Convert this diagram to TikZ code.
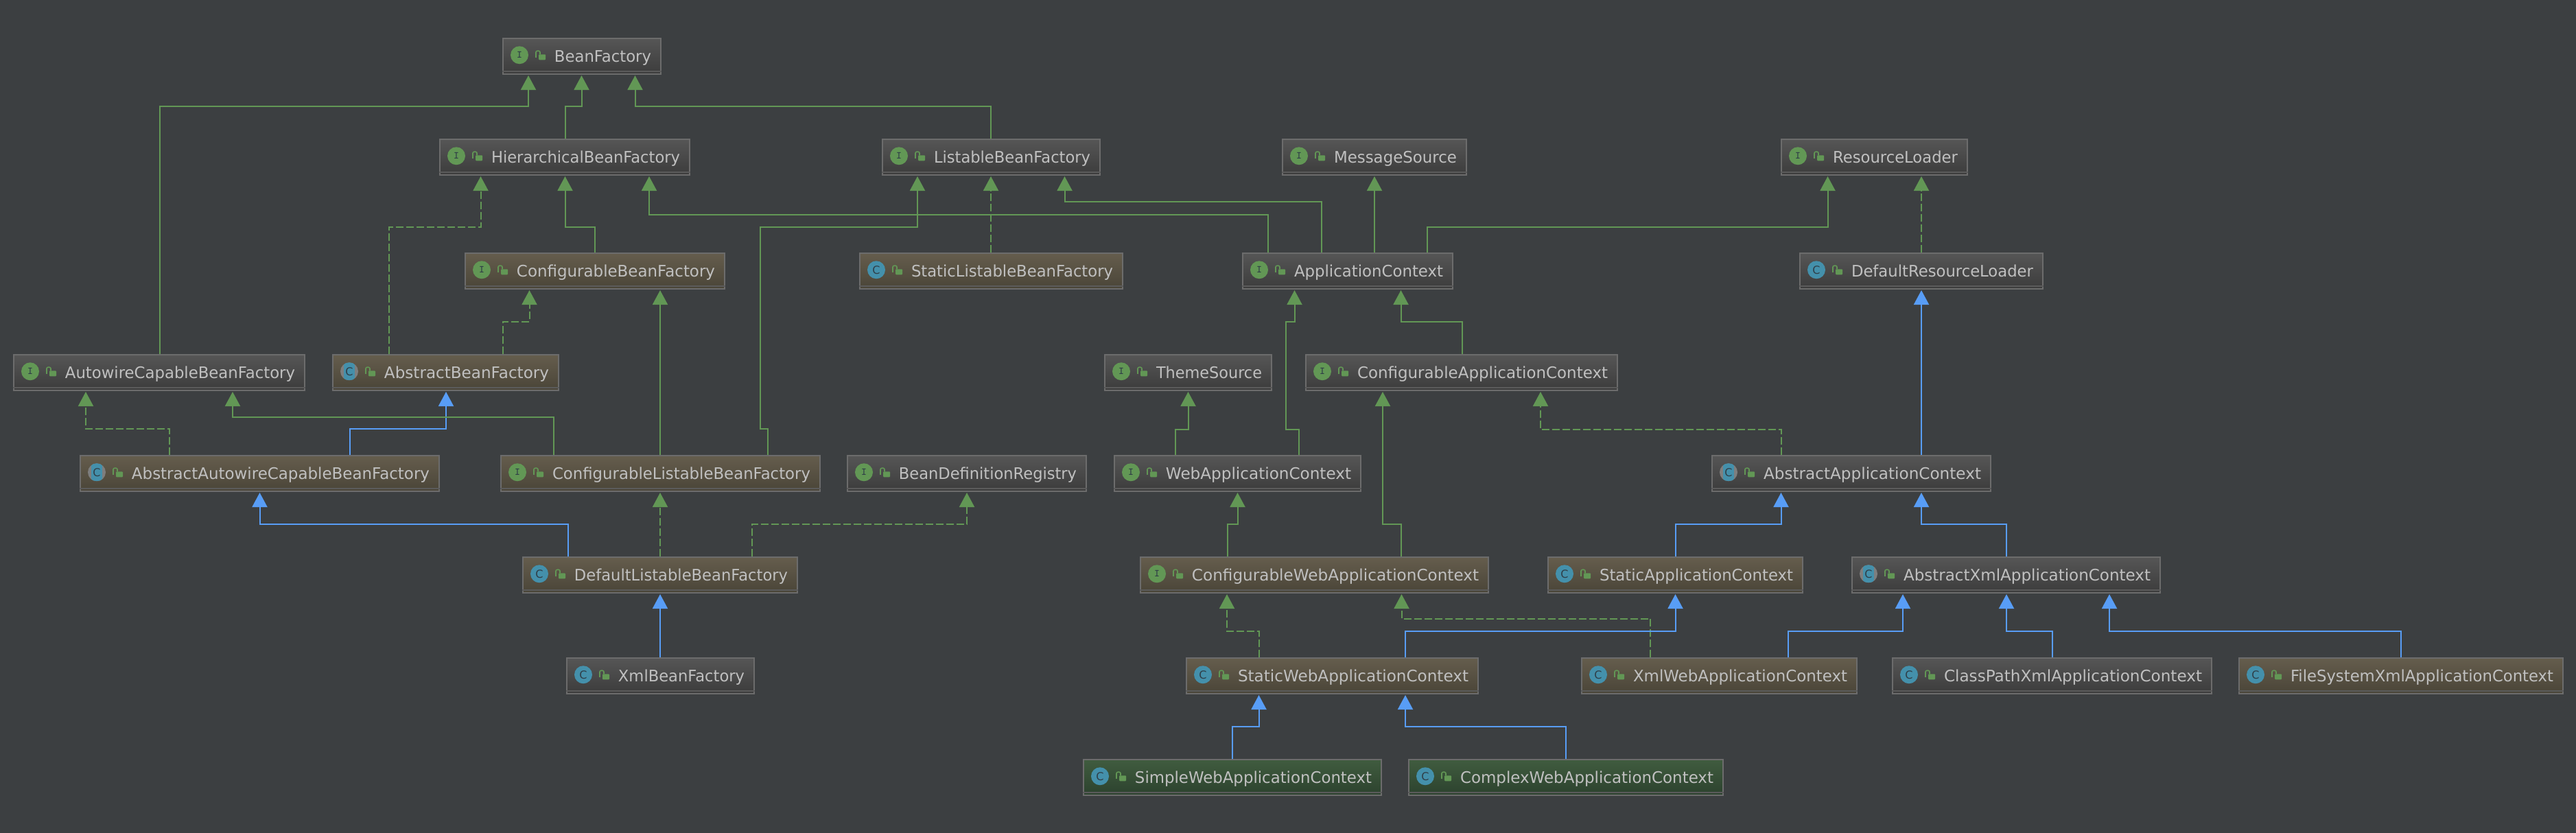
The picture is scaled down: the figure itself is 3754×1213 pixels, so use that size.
\documentclass[tikz,border=0pt]{standalone}
\usepackage{fontspec}
\setmainfont{DejaVu Sans}
\usepackage{graphicx}
\usepackage{tikz}
\usetikzlibrary{arrows.meta}
\definecolor{bgdark}{HTML}{3C3F41}
\definecolor{textgray}{HTML}{C0C0C0}
\definecolor{edgegreen}{HTML}{629755}
\definecolor{edgeblue}{HTML}{589DF6}
\definecolor{iconblue}{HTML}{4490AB}
\definecolor{iconink}{HTML}{2F3E47}
\definecolor{icongray}{HTML}{7E7E7E}
\definecolor{rimgray}{HTML}{6C6C6C}
\definecolor{stripegray}{HTML}{5B5B5B}
\definecolor{graytop}{HTML}{565656}
\definecolor{graybot}{HTML}{3C3C3C}
\definecolor{browntop}{HTML}{655D4D}
\definecolor{brownbot}{HTML}{4A4538}
\definecolor{greentop}{HTML}{405C3F}
\definecolor{greenbot}{HTML}{2C422E}
\tikzset{
    basebox/.style={draw=rimgray, line width=2pt, anchor=north west, minimum height=51.5pt,
        inner xsep=14pt, inner ysep=0pt, align=right, text=textgray, text height=17pt, text depth=0pt,
        font=\fontsize{23.2}{26}\selectfont},
    graybox/.style={basebox, top color=graytop, bottom color=graybot},
    brownbox/.style={basebox, top color=browntop, bottom color=brownbot},
    greenbox/.style={basebox, top color=greentop, bottom color=greenbot},
    iface/.style={circle, fill=edgegreen, minimum size=26pt, inner sep=0pt, text=iconink,
        font=\fontsize{15}{15}\ttfamily\bfseries, execute at begin node=I},
    klass/.style={circle, fill=iconblue, minimum size=26pt, inner sep=0pt, text=iconink,
        font=\fontsize{16}{16}\selectfont, execute at begin node=C},
    absklass/.style={klass, fill=icongray, path picture={
        \fill[iconblue] ([xshift=-8pt]path picture bounding box.south) rectangle ([xshift=8pt]path picture bounding box.north);}},
    real/.style={draw=edgegreen, line width=2pt, shorten >=1.5pt, -{Triangle[length=21pt,width=22pt,fill=edgegreen]}},
    impl/.style={real, dash pattern=on 11pt off 4pt},
    sub/.style={draw=edgeblue, line width=2pt, shorten >=1.5pt, -{Triangle[length=21pt,width=22pt,fill=edgeblue]}},
}
\newcommand{\BeanNode}[7]{
    \pgfmathsetmacro{\textw}{#5-30}
    \pgfmathsetmacro{\fitw}{#5-91}
    \node[#1, text width=\textw pt] (#2) at (#3,#4) {\resizebox{\fitw pt}{\height}{#7}};
    \draw[stripegray, line width=2pt] ([yshift=5pt]#2.south west) -- ([yshift=5pt]#2.south east);
    \node[#6] (#2icon) at ([xshift=25pt,yshift=1.5pt]#2.west) {};
    \fill[edgegreen, rounded corners=1pt] ([xshift=53pt,yshift=-5.5pt]#2.west) rectangle ([xshift=63pt,yshift=2.5pt]#2.west);
    \draw[edgegreen, line width=1.6pt, rounded corners=2pt] ([xshift=49pt,yshift=-2pt]#2.west) -- ([xshift=49pt,yshift=7.5pt]#2.west) -- ([xshift=55pt,yshift=7.5pt]#2.west) -- ([xshift=55pt,yshift=2.5pt]#2.west);
}
\newcommand{\Link}[6]{\draw[#1] (#3,0 |- #2.north) |- (#6,#4) -- (#6,0 |- #5.south);}
\newcommand{\Straight}[4]{\draw[#1] (#4,0 |- #2.north) -- (#4,0 |- #3.south);}
\begin{document}
\begin{tikzpicture}[x=1pt,y=-1pt]
    \useasboundingbox (0,0) rectangle (3754,1213);
    \fill[bgdark] (-5,-5) rectangle (3759,1218);

    \BeanNode{graybox}{BeanFactory}{732}{55}{232}{iface}{BeanFactory}
    \BeanNode{graybox}{HierarchicalBF}{640}{202}{366}{iface}{HierarchicalBeanFactory}
    \BeanNode{graybox}{ListableBF}{1285}{202}{319}{iface}{ListableBeanFactory}
    \BeanNode{graybox}{MessageSrc}{1868}{202}{270}{iface}{MessageSource}
    \BeanNode{graybox}{ResourceLdr}{2595}{202}{273}{iface}{ResourceLoader}
    \BeanNode{brownbox}{ConfigurableBF}{677}{368}{380}{iface}{ConfigurableBeanFactory}
    \BeanNode{brownbox}{StaticListableBF}{1252}{368}{385}{klass}{StaticListableBeanFactory}
    \BeanNode{graybox}{AppContext}{1810}{368}{308}{iface}{ApplicationContext}
    \BeanNode{graybox}{DefaultResLdr}{2622}{368}{356}{klass}{DefaultResourceLoader}
    \BeanNode{graybox}{AutowireBF}{19}{516}{426}{iface}{AutowireCapableBeanFactory}
    \BeanNode{brownbox}{AbstractBF}{484}{516}{331}{absklass}{AbstractBeanFactory}
    \BeanNode{graybox}{ThemeSrc}{1609}{516}{245}{iface}{ThemeSource}
    \BeanNode{graybox}{ConfigAppCtx}{1902}{516}{456}{iface}{ConfigurableApplicationContext}
    \BeanNode{brownbox}{AbstractAutowireBF}{116}{663}{525}{absklass}{AbstractAutowireCapableBeanFactory}
    \BeanNode{brownbox}{ConfigListableBF}{729}{663}{467}{iface}{ConfigurableListableBeanFactory}
    \BeanNode{graybox}{BeanDefReg}{1234}{663}{350}{iface}{BeanDefinitionRegistry}
    \BeanNode{graybox}{WebAppCtx}{1623}{663}{361}{iface}{WebApplicationContext}
    \BeanNode{graybox}{AbstractAppCtx}{2494}{663}{408}{absklass}{AbstractApplicationContext}
    \BeanNode{brownbox}{DefaultListableBF}{761}{811}{402}{klass}{DefaultListableBeanFactory}
    \BeanNode{brownbox}{ConfigWebAppCtx}{1661}{811}{509}{iface}{ConfigurableWebApplicationContext}
    \BeanNode{brownbox}{StaticAppCtx}{2255}{811}{373}{klass}{StaticApplicationContext}
    \BeanNode{graybox}{AbstractXmlCtx}{2698}{811}{451}{absklass}{AbstractXmlApplicationContext}
    \BeanNode{graybox}{XmlBF}{825}{958}{275}{klass}{XmlBeanFactory}
    \BeanNode{brownbox}{StaticWebCtx}{1728}{958}{427}{klass}{StaticWebApplicationContext}
    \BeanNode{brownbox}{XmlWebCtx}{2304}{958}{403}{klass}{XmlWebApplicationContext}
    \BeanNode{graybox}{ClassPathCtx}{2757}{958}{467}{klass}{ClassPathXmlApplicationContext}
    \BeanNode{brownbox}{FileSystemCtx}{3262}{958}{474}{klass}{FileSystemXmlApplicationContext}
    \BeanNode{greenbox}{SimpleWebCtx}{1578}{1106}{436}{klass}{SimpleWebApplicationContext}
    \BeanNode{greenbox}{ComplexWebCtx}{2052}{1106}{460}{klass}{ComplexWebApplicationContext}

    \Link{real}{AutowireBF}{232.5}{155}{BeanFactory}{770}
    \Link{real}{HierarchicalBF}{823.5}{155}{BeanFactory}{847.5}
    \Link{real}{ListableBF}{1444}{155}{BeanFactory}{925.5}
    \Link{impl}{AbstractBF}{567}{330.5}{HierarchicalBF}{700.5}
    \Link{real}{ConfigurableBF}{867}{330.5}{HierarchicalBF}{823.5}
    \Link{real}{AppContext}{1847.5}{312.5}{HierarchicalBF}{946}
    \Link{impl}{AbstractBF}{732.5}{468.5}{ConfigurableBF}{771.5}
    \Straight{real}{ConfigListableBF}{ConfigurableBF}{962}
    \draw[real] (1118.5,0 |- ConfigListableBF.north) |- (1108,625) |- (1337,330.5) -- (1337,0 |- ListableBF.south);
    \Straight{impl}{StaticListableBF}{ListableBF}{1444}
    \Link{real}{AppContext}{1925.5}{293.5}{ListableBF}{1551.5}
    \Straight{real}{AppContext}{MessageSrc}{2003}
    \Link{real}{AppContext}{2080}{330.5}{ResourceLdr}{2663.5}
    \Straight{impl}{DefaultResLdr}{ResourceLdr}{2800}
    \Straight{sub}{AbstractAppCtx}{DefaultResLdr}{2800}
    \Link{impl}{AbstractAppCtx}{2595.5}{625.5}{ConfigAppCtx}{2245}
    \Link{real}{ConfigAppCtx}{2130.5}{468.5}{AppContext}{2041.5}
    \draw[real] (1893,0 |- WebAppCtx.north) |- (1874,625.5) |- (1886.5,468.5) -- (1886.5,0 |- AppContext.south);
    \Link{real}{WebAppCtx}{1712.5}{625.5}{ThemeSrc}{1731.5}
    \Link{real}{ConfigWebAppCtx}{1789}{763.5}{WebAppCtx}{1803.5}
    \Link{real}{ConfigWebAppCtx}{2042}{763.5}{ConfigAppCtx}{2015}
    \Link{impl}{StaticWebCtx}{1834.5}{920}{ConfigWebAppCtx}{1788}
    \Link{impl}{XmlWebCtx}{2405}{901.5}{ConfigWebAppCtx}{2042.5}
    \Link{sub}{StaticWebCtx}{2048}{920}{StaticAppCtx}{2441.5}
    \Link{sub}{StaticAppCtx}{2441.5}{763.5}{AbstractAppCtx}{2595.5}
    \Link{sub}{AbstractXmlCtx}{2924}{763.5}{AbstractAppCtx}{2800}
    \Link{sub}{XmlWebCtx}{2606}{920}{AbstractXmlCtx}{2773}
    \Link{sub}{ClassPathCtx}{2991}{920}{AbstractXmlCtx}{2924}
    \Link{sub}{FileSystemCtx}{3499}{920}{AbstractXmlCtx}{3074}
    \Link{sub}{SimpleWebCtx}{1796}{1059}{StaticWebCtx}{1834.5}
    \Link{sub}{ComplexWebCtx}{2281.5}{1059}{StaticWebCtx}{2048}
    \Link{impl}{AbstractAutowireBF}{247}{625}{AutowireBF}{125}
    \Link{sub}{AbstractAutowireBF}{510}{625}{AbstractBF}{650}
    \Link{real}{ConfigListableBF}{807}{607.5}{AutowireBF}{339}
    \Link{sub}{DefaultListableBF}{827.5}{763.5}{AbstractAutowireBF}{378.5}
    \Straight{impl}{DefaultListableBF}{ConfigListableBF}{962}
    \Link{impl}{DefaultListableBF}{1096}{763.5}{BeanDefReg}{1409}
    \Straight{sub}{XmlBF}{DefaultListableBF}{962}
\end{tikzpicture}
\end{document}
